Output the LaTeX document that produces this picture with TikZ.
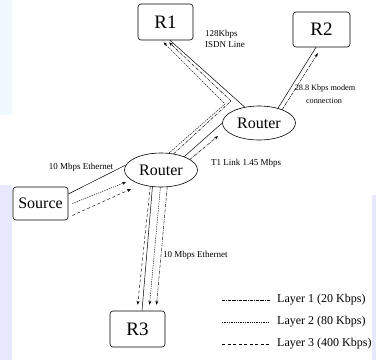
\documentclass[tikz,border=0pt]{standalone}
\usepackage{fontspec}
\setmainfont{Liberation Serif}
\usetikzlibrary{arrows.meta,shapes.geometric}
\begin{document}
\begin{tikzpicture}[x=1pt,y=-1pt,
  box/.style={draw,rounded corners=3pt,line width=0.6pt,minimum width=55pt,minimum height=36pt,inner sep=0pt,font=\fontsize{19}{19}\selectfont},
  rtr/.style={draw,ellipse,line width=0.6pt,minimum width=73pt,minimum height=34pt,inner sep=0pt,font=\fontsize{16}{16}\selectfont},
  link/.style={line width=0.5pt},
  lone/.style={line width=0.45pt,dash pattern=on 3pt off 1pt on 0.6pt off 1pt},
  ltwo/.style={line width=0.45pt,dash pattern=on 1.3pt off 1pt},
  lthree/.style={line width=0.45pt,dash pattern=on 3pt off 2.5pt},
  arr/.style={-{Stealth[length=4pt,width=3pt]}},
  lbl/.style={font=\fontsize{9}{10}\selectfont,inner sep=0pt},
  leg/.style={font=\fontsize{12}{12}\selectfont,inner sep=0pt,anchor=west}]
\useasboundingbox (0,0) rectangle (376,360);
\fill[white] (0,0) rectangle (376,360);
\fill[cyan!6] (0,0) rectangle (12,115);
\fill[blue!9] (0,185) rectangle (12,360);
\fill[blue!9] (372,195) rectangle (376,360);
% nodes
\node[box] (R1) at (165.5,22) {R1};
\node[box,minimum width=57pt,minimum height=35pt] (R2) at (321.5,29.5) {R2};
\node[box] (R3) at (137.5,329) {R3};
\node[box,minimum height=33pt,font=\fontsize{16}{16}\selectfont] (Src) at (40.5,203.5) {Source};
\node[rtr] (RA) at (161,170) {Router};
\node[rtr] (RB) at (259,123) {Router};
% helper coordinates
\coordinate (kA) at (225,104);
\coordinate (kB) at (231,101);
\coordinate (a1) at (218,136);
\coordinate (s2) at (126,182);
\coordinate (s3) at (131,189);
% physical links
\draw[link] ([yshift=9.5pt]Src.east) -- (RA.172);
\draw[link] (RA.30) -- (RB.180);
\draw[link] (RB.132) -- ([xshift=4.5pt]R1.south);
\draw[link] (RB.38) -- ([xshift=-5.5pt]R2.south);
\draw[link] (RA.243) -- ([xshift=4.5pt]R3.north);
% layered flows
\draw[ltwo,arr] ([xshift=4pt]Src.east) -- (s2);
\draw[lthree,arr] ([xshift=4pt,yshift=-12pt]Src.east) -- (s3);
\draw[lone,arr] (RA.20) -- (a1);
\draw[ltwo,arr,shorten >=3pt] (RA.65) -- (kA) -- ([xshift=-4pt]R1.south);
\draw[lone,arr,shorten >=3pt] (RA.52) -- (kB) -- ([xshift=1.5pt]R1.south);
\draw[lone,arr,shorten >=7pt] (RB.30) -- (R2.south);
\draw[lthree,arr,shorten >=6pt] (RA.237) -- ([xshift=-0.5pt]R3.north);
\draw[ltwo,arr,shorten >=6pt] (RA.268) -- ([xshift=11.5pt]R3.north);
\draw[lone,arr,shorten >=6pt] (RA.290) -- ([xshift=18.5pt]R3.north);
% labels
\node[lbl,anchor=west] (t128) at (205,34) {128Kbps};
\node[lbl,anchor=west] (tisdn) at (205,45) {ISDN Line};
\node[lbl,font=\fontsize{8.2}{9}\selectfont] (t288) at (325,89) {28.8 Kbps modem};
\node[lbl,font=\fontsize{8.2}{9}\selectfont] (tconn) at (324,101) {connection};
\node[lbl,anchor=west] (tt1) at (211,163) {T1 Link 1.45 Mbps};
\node[lbl] (teth1) at (81,167) {10 Mbps Ethernet};
\node[lbl,anchor=west] (teth2) at (163,255) {10 Mbps Ethernet};
% legend
\coordinate (g1a) at (222,300); \coordinate (g1b) at (270,300);
\coordinate (g2a) at (222,322); \coordinate (g2b) at (270,322);
\coordinate (g3a) at (222,344); \coordinate (g3b) at (270,344);
\draw[lone] (g1a) -- (g1b);
\draw[ltwo] (g2a) -- (g2b);
\draw[lthree] (g3a) -- (g3b);
\node[leg] (lg1) at (277,300) {Layer 1 (20 Kbps)};
\node[leg] (lg2) at (277,322) {Layer 2 (80 Kbps)};
\node[leg] (lg3) at (277,344) {Layer 3 (400 Kbps)};
\end{tikzpicture}
\end{document}
